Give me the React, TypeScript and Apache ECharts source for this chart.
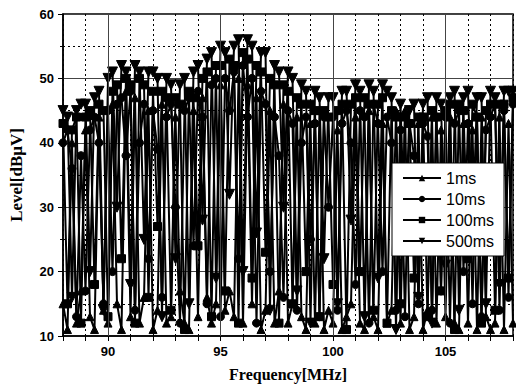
import React, { useEffect, useRef } from "react";
import * as echarts from "echarts";

const freqs = [
  88.0, 88.2, 88.4, 88.6, 88.8, 89.0, 89.2, 89.4, 89.6, 89.8,
  90.0, 90.2, 90.4, 90.6, 90.8, 91.0, 91.2, 91.4, 91.6, 91.8,
  92.0, 92.2, 92.4, 92.6, 92.8, 93.0, 93.2, 93.4, 93.6, 93.8,
  94.0, 94.2, 94.4, 94.6, 94.8, 95.0, 95.2, 95.4, 95.6, 95.8,
  96.0, 96.2, 96.4, 96.6, 96.8, 97.0, 97.2, 97.4, 97.6, 97.8,
  98.0, 98.2, 98.4, 98.6, 98.8, 99.0, 99.2, 99.4, 99.6, 99.8,
  100.0, 100.2, 100.4, 100.6, 100.8, 101.0, 101.2, 101.4, 101.6, 101.8,
  102.0, 102.2, 102.4, 102.6, 102.8, 103.0, 103.2, 103.4, 103.6, 103.8,
  104.0, 104.2, 104.4, 104.6, 104.8, 105.0, 105.2, 105.4, 105.6, 105.8,
  106.0, 106.2, 106.4, 106.6, 106.8, 107.0, 107.2, 107.4, 107.6, 107.8,
  108.0,
];

const level1ms = [
  15, 11, 40, 12, 17, 42, 13, 11, 44, 14,
  12, 46, 15, 11, 48, 13, 47, 12, 16, 45,
  11, 14, 46, 12, 13, 44, 17, 12, 11, 45,
  13, 47, 16, 12, 15, 49, 14, 17, 13, 50,
  12, 49, 15, 47, 11, 14, 45, 12, 17, 46,
  12, 15, 44, 13, 11, 43, 12, 45, 11, 14,
  12, 42, 11, 13, 15, 44, 12, 11, 45, 13,
  11, 43, 12, 14, 45, 12, 45, 11, 13, 43,
  11, 14, 44, 12, 42, 13, 44, 12, 11, 43,
  12, 42, 11, 44, 13, 11, 12, 44, 11, 43,
  12,
];

const level10ms = [
  40, 42, 36, 13, 38, 17, 42, 44, 40, 15,
  45, 20, 46, 47, 38, 48, 14, 40, 46, 22,
  45, 39, 16, 44, 46, 30, 12, 45, 47, 24,
  48, 44, 15, 49, 50, 13, 50, 45, 51, 22,
  52, 44, 50, 12, 48, 46, 20, 44, 38, 16,
  45, 43, 14, 40, 44, 25, 43, 13, 44, 30,
  44, 14, 43, 45, 40, 18, 45, 44, 12, 46,
  43, 20, 44, 40, 14, 42, 13, 43, 38, 15,
  43, 41, 14, 44, 17, 44, 12, 43, 45, 20,
  43, 15, 44, 13, 42, 44, 46, 14, 45, 16,
  46,
];

const level100ms = [
  43, 15, 42, 44, 12, 44, 45, 18, 46, 45,
  13, 48, 49, 22, 50, 49, 12, 50, 49, 16,
  48, 27, 48, 47, 14, 47, 46, 11, 48, 47,
  24, 50, 51, 13, 52, 52, 17, 53, 52, 12,
  54, 53, 19, 52, 51, 23, 50, 49, 12, 49,
  48, 15, 47, 46, 20, 46, 45, 13, 45, 44,
  18, 45, 46, 11, 46, 47, 20, 47, 46, 14,
  46, 47, 12, 45, 44, 15, 44, 43, 19, 44,
  44, 13, 45, 44, 17, 45, 46, 11, 46, 45,
  22, 46, 44, 12, 45, 46, 14, 46, 46, 19,
  47,
];

const level500ms = [
  45, 44, 16, 45, 46, 46, 20, 47, 48, 14,
  50, 51, 30, 52, 51, 18, 52, 51, 25, 51,
  51, 50, 13, 50, 49, 22, 49, 50, 15, 51,
  52, 28, 53, 54, 19, 55, 54, 32, 55, 56,
  20, 56, 55, 26, 54, 54, 14, 52, 51, 30,
  51, 50, 17, 49, 48, 12, 48, 47, 22, 47,
  47, 15, 48, 48, 28, 49, 48, 13, 49, 48,
  19, 49, 48, 47, 11, 46, 24, 45, 46, 16,
  46, 47, 12, 47, 46, 21, 47, 48, 14, 47,
  48, 26, 47, 47, 15, 48, 47, 18, 48, 48,
  48,
];

const seriesNames = ["1ms", "10ms", "100ms", "500ms"];
const majorFreqLines = [90, 95, 100, 105];

const pairs = (vals: number[]) => freqs.map((f, i) => [f, vals[i]]);

export default function App() {
  const ref = useRef<HTMLDivElement>(null);
  useEffect(() => {
    if (!ref.current) return;
    const chart = echarts.init(ref.current, undefined, { renderer: "svg" });
    const symbols = ["triangle", "circle", "rect", "path://M0,0 L10,0 L5,10 Z"];
    const sizes = [8, 8, 8, 10];
    const allVals = [level1ms, level10ms, level100ms, level500ms];
    const dataSeries = seriesNames.map((name, k) => ({
      name,
      type: "line",
      data: pairs(allVals[k]),
      symbol: symbols[k],
      symbolSize: sizes[k],
      showSymbol: true,
      z: 2,
      lineStyle: { color: "#000", width: 2 },
      itemStyle: { color: "#000", borderColor: "#000" },
    }));
    chart.setOption({
      animation: false,
      backgroundColor: "#fff",
      grid: {
        left: 61,
        top: 14,
        right: 2,
        bottom: 48,
        show: true,
        borderColor: "#000",
        borderWidth: 1.5,
      },
      legend: {
        data: seriesNames,
        orient: "vertical",
        left: 392,
        top: 163,
        z: 20,
        padding: [7, 10, 7, 10],
        itemGap: 5,
        itemWidth: 38,
        itemHeight: 8,
        backgroundColor: "#fff",
        borderColor: "#000",
        borderWidth: 1,
        textStyle: { color: "#000", fontSize: 16, fontFamily: "Liberation Sans, Arial, sans-serif" },
      },
      xAxis: {
        type: "value",
        min: 88,
        max: 108,
        interval: 1,
        name: "Frequency[MHz]",
        nameLocation: "middle",
        nameGap: 30,
        nameTextStyle: {
          color: "#000",
          fontSize: 16,
          fontWeight: "bold",
          fontFamily: "Liberation Serif, Times New Roman, serif",
        },
        axisLine: { show: true, lineStyle: { color: "#000", width: 1.5 } },
        axisTick: { show: true, inside: false, length: 5, lineStyle: { color: "#000" } },
        axisLabel: {
          color: "#000",
          fontSize: 13,
          fontWeight: "bold",
          fontFamily: "Liberation Sans, Arial, sans-serif",
          margin: 9,
          formatter: (v: number) => (v % 5 === 0 ? String(v) : ""),
        },
        splitLine: { show: true, lineStyle: { color: "#000", type: [2, 3], width: 1 } },
      },
      yAxis: {
        type: "value",
        min: 10,
        max: 60,
        interval: 10,
        name: "Level[dBμV]",
        nameLocation: "middle",
        nameGap: 38,
        nameTextStyle: {
          color: "#000",
          fontSize: 17,
          fontWeight: "bold",
          fontFamily: "Liberation Serif, Times New Roman, serif",
        },
        axisLine: { show: true, lineStyle: { color: "#000", width: 1.5 } },
        axisTick: { show: true, inside: false, length: 5, lineStyle: { color: "#000" } },
        minorTick: { show: true, splitNumber: 2, length: 3, lineStyle: { color: "#000" } },
        axisLabel: {
          color: "#000",
          fontSize: 13,
          fontWeight: "bold",
          fontFamily: "Liberation Sans, Arial, sans-serif",
          margin: 9,
        },
        splitLine: { show: true, lineStyle: { color: "#444", width: 1 } },
        minorSplitLine: { show: true, lineStyle: { color: "#000", type: [2, 3], width: 1 } },
      },
      series: [
        {
          name: "grid-major",
          type: "line",
          data: [],
          z: 1,
          silent: true,
          markLine: {
            silent: true,
            symbol: "none",
            label: { show: false },
            lineStyle: { color: "#444", type: "solid", width: 1 },
            data: majorFreqLines.map((x) => ({ xAxis: x })),
          },
        },
        ...dataSeries,
      ],
    });
    return () => chart.dispose();
  }, []);
  return <div ref={ref} style={{ width: 516, height: 387, position: "absolute", left: 0, top: 0 }} />;
}
